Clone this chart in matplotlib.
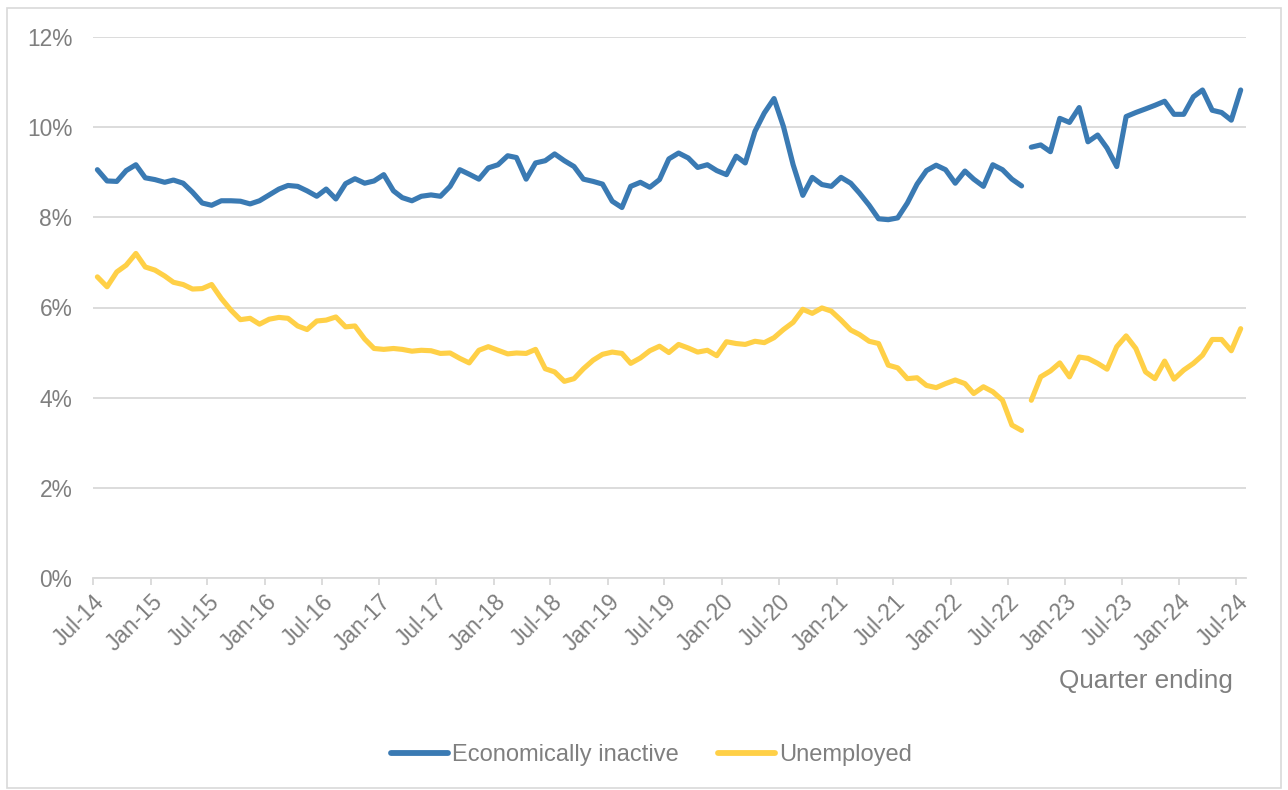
import matplotlib
matplotlib.use("Agg")
import matplotlib.pyplot as plt
import matplotlib.patches as mpatches
import pandas as pd

plt.rcParams['font.family'] = ['Liberation Sans', 'DejaVu Sans']

# monthly values, quarter ending Jul-14 .. Aug-22 (old series) and Sep-22 .. Jul-24 (new series)
inactive_old = [9.06, 8.81, 8.80, 9.04, 9.17, 8.88, 8.84, 8.78, 8.83, 8.76,
                8.56, 8.32, 8.27, 8.37, 8.37, 8.36, 8.30, 8.37, 8.50, 8.63,
                8.71, 8.69, 8.59, 8.47, 8.63, 8.41, 8.75, 8.86, 8.76, 8.81,
                8.95, 8.59, 8.44, 8.37, 8.47, 8.50, 8.47, 8.69, 9.06, 8.96,
                8.85, 9.10, 9.17, 9.37, 9.33, 8.85, 9.21, 9.26, 9.41, 9.26,
                9.13, 8.85, 8.80, 8.74, 8.36, 8.22, 8.69, 8.78, 8.67, 8.84,
                9.30, 9.43, 9.32, 9.11, 9.17, 9.04, 8.95, 9.36, 9.21, 9.91,
                10.32, 10.64, 10.02, 9.17, 8.49, 8.89, 8.73, 8.69, 8.89, 8.76,
                8.54, 8.27, 7.97, 7.95, 7.99, 8.32, 8.74, 9.04, 9.16, 9.06,
                8.76, 9.03, 8.85, 8.69, 9.17, 9.06, 8.85, 8.70]
inactive_new = [9.56, 9.61, 9.46, 10.20, 10.11, 10.44, 9.68, 9.83, 9.54, 9.13,
                10.24, 10.33, 10.41, 10.49, 10.58, 10.29, 10.29, 10.68, 10.83, 10.38,
                10.33, 10.16, 10.83]

unemployed_old = [6.68, 6.46, 6.79, 6.94, 7.20, 6.90, 6.83, 6.70, 6.56, 6.51,
                  6.41, 6.42, 6.51, 6.20, 5.94, 5.73, 5.76, 5.63, 5.74, 5.78,
                  5.76, 5.59, 5.51, 5.70, 5.72, 5.79, 5.57, 5.59, 5.30, 5.09,
                  5.07, 5.09, 5.07, 5.03, 5.05, 5.04, 4.98, 4.99, 4.87, 4.77,
                  5.05, 5.13, 5.05, 4.97, 4.99, 4.98, 5.07, 4.64, 4.57, 4.36,
                  4.42, 4.64, 4.83, 4.96, 5.01, 4.98, 4.76, 4.88, 5.04, 5.14,
                  5.00, 5.18, 5.10, 5.01, 5.05, 4.93, 5.24, 5.20, 5.18, 5.25,
                  5.22, 5.33, 5.51, 5.67, 5.96, 5.87, 5.99, 5.92, 5.72, 5.50,
                  5.40, 5.25, 5.20, 4.72, 4.66, 4.42, 4.44, 4.27, 4.22, 4.31,
                  4.39, 4.31, 4.09, 4.24, 4.13, 3.94, 3.39, 3.27]
unemployed_new = [3.94, 4.46, 4.59, 4.77, 4.46, 4.90, 4.87, 4.76, 4.63, 5.13,
                  5.37, 5.09, 4.57, 4.42, 4.81, 4.41, 4.61, 4.76, 4.94, 5.29,
                  5.29, 5.04, 5.53]

months = pd.date_range('2014-07-01', periods=len(inactive_old) + len(inactive_new), freq='MS') + pd.Timedelta(days=14)
dates_old = months[:len(inactive_old)]
dates_new = months[len(inactive_old):]

tick_dates = pd.date_range('2014-07-01', '2024-07-01', freq='6MS')
tick_labels = [d.strftime('%b-%y') for d in tick_dates]
y_ticks = [0, 2, 4, 6, 8, 10, 12]

BLUE = '#3a7ab3'
YELLOW = '#ffd047'
GREY_TXT = '#7f7f7f'
GRID = '#d9d9d9'

fig = plt.figure(figsize=(12.88, 7.90), dpi=100)
ax = fig.add_axes([93 / 1288, 1 - 577.7 / 790, (1246 - 93) / 1288, (577.7 - 37.3) / 790])

lw = 3.7
ax.plot(dates_old, inactive_old, color=BLUE, lw=lw, solid_capstyle='round', solid_joinstyle='round',
        label='Economically inactive', zorder=3)
ax.plot(dates_new, inactive_new, color=BLUE, lw=lw, solid_capstyle='round', solid_joinstyle='round', zorder=3)
ax.plot(dates_old, unemployed_old, color=YELLOW, lw=lw, solid_capstyle='round', solid_joinstyle='round',
        label='Unemployed', zorder=3)
ax.plot(dates_new, unemployed_new, color=YELLOW, lw=lw, solid_capstyle='round', solid_joinstyle='round', zorder=3)

ax.set_xlim(pd.Timestamp('2014-07-01'), pd.Timestamp('2024-08-01'))
ax.set_ylim(0, 12)
ax.set_yticks(y_ticks)
ax.set_yticklabels([f'{v}%' for v in y_ticks])
ax.set_xticks(tick_dates)
ax.set_xticklabels(tick_labels, rotation=45, ha='right', rotation_mode='anchor')

ax.grid(axis='y', color=GRID, lw=1.3, zorder=0)
for s in ['left', 'right', 'top']:
    ax.spines[s].set_visible(False)
ax.spines['bottom'].set_color(GRID)
ax.spines['bottom'].set_linewidth(1.3)
ax.tick_params(axis='y', length=0, pad=15, labelsize=16.4, labelcolor=GREY_TXT)
ax.tick_params(axis='x', length=5, width=1.3, color=GRID, pad=4, labelsize=16.4, labelcolor=GREY_TXT)

fig.text(1233 / 1288, 1 - 681 / 790, 'Quarter ending', ha='right', va='center',
         fontsize=18.8, color=GREY_TXT)

leg = fig.legend(loc='center', bbox_to_anchor=(0.506, 1 - 755 / 790), ncol=2, frameon=False,
                 fontsize=17, handlelength=2.4, handletextpad=0.2, columnspacing=1.65)
for t in leg.get_texts():
    t.set_color(GREY_TXT)
for h in leg.get_lines():
    h.set_linewidth(4.2)

fig.patches.append(mpatches.Rectangle((7 / 1288, 1 - 788 / 790), (1281 - 7) / 1288, (788 - 8) / 790,
                                      transform=fig.transFigure, fill=False, edgecolor=GRID, lw=1.2))

fig.savefig('out.png', dpi=100)
